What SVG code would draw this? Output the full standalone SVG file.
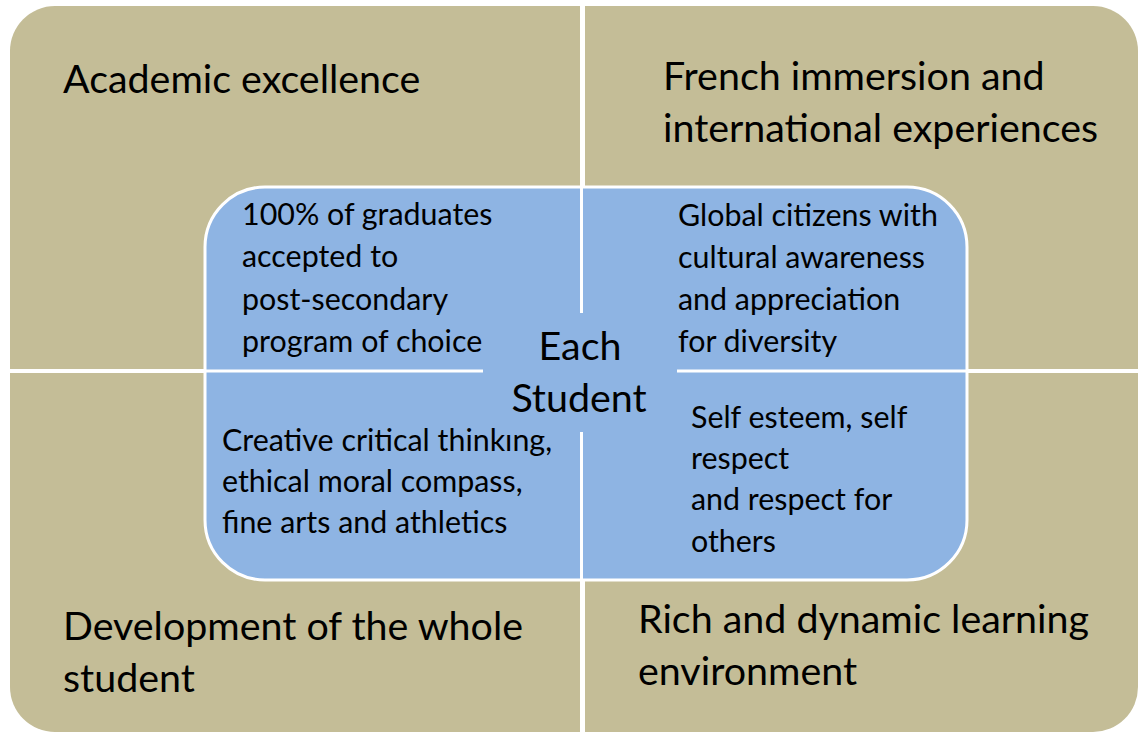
<svg xmlns="http://www.w3.org/2000/svg" width="1138" height="734" viewBox="0 0 1138 734">
<style>
.big{font-family:Lato,"Liberation Sans",sans-serif;font-size:39.4px;fill:#000}
.small{font-family:Lato,"Liberation Sans",sans-serif;font-size:30.4px;fill:#000}
.sep{stroke:#fff;fill:none}
</style>
<rect width="1138" height="734" fill="#fff"/>
<g id="quadrants">
<rect x="10" y="6" width="1128" height="726" rx="45" fill="#C4BD97"/>
</g>
<g id="connectors">
<line class="sep" x1="582.5" y1="0" x2="582.5" y2="734" stroke-width="5"/>
<line class="sep" x1="0" y1="371" x2="1138" y2="371" stroke-width="4"/>
</g>
<g id="center-box">
<rect x="205" y="187" width="762" height="393" rx="60" fill="#8EB4E3" stroke="#fff" stroke-width="3"/>
<line class="sep" x1="581.5" y1="188" x2="581.5" y2="313" stroke-width="3"/>
<line class="sep" x1="581.5" y1="432" x2="581.5" y2="579" stroke-width="3"/>
<line class="sep" x1="206" y1="371" x2="483" y2="371" stroke-width="3"/>
<line class="sep" x1="677" y1="371" x2="966" y2="371" stroke-width="3"/>
</g>
<g id="academic">
<text class="big" x="63" y="93">Academic excellence</text>
</g>
<g id="french">
<text class="big" x="663" y="90">French immersion and</text>
<text class="big" x="663" y="142">international experiences</text>
</g>
<g id="development">
<text class="big" x="63" y="640">Development of the whole</text>
<text class="big" x="63" y="692">student</text>
</g>
<g id="rich">
<text class="big" x="638" y="633">Rich and dynamic learning</text>
<text class="big" x="638" y="685">environment</text>
</g>
<g id="graduates">
<text class="small" x="242" y="225">100% of graduates</text>
<text class="small" x="242" y="267">accepted to</text>
<text class="small" x="242" y="310">post-secondary</text>
<text class="small" x="242" y="352">program of choice</text>
</g>
<g id="global">
<text class="small" x="678" y="226">Global citizens with</text>
<text class="small" x="678" y="268">cultural awareness</text>
<text class="small" x="678" y="310">and appreciation</text>
<text class="small" x="678" y="352">for diversity</text>
</g>
<g id="creative">
<text class="small" x="222" y="451">Creative critical thinkıng,</text>
<text class="small" x="222" y="492">ethical moral compass,</text>
<text class="small" x="222" y="533">fine arts and athletics</text>
</g>
<g id="self">
<text class="small" x="691" y="428">Self esteem, self</text>
<text class="small" x="691" y="469">respect</text>
<text class="small" x="691" y="510">and respect for</text>
<text class="small" x="691" y="552">others</text>
</g>
<g id="each-student">
<text class="big" x="580" y="360" text-anchor="middle">Each</text>
<text class="big" x="579" y="412" text-anchor="middle">Student</text>
</g>
</svg>
